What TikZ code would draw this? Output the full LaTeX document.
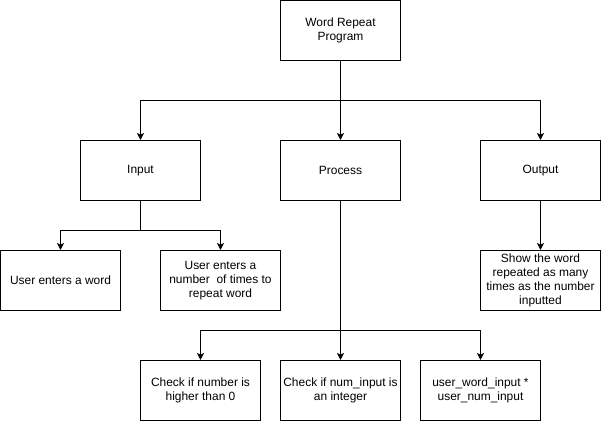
\documentclass[tikz,border=0pt]{standalone}
\usepackage{fontspec}
\setmainfont{Liberation Sans}
\usetikzlibrary{arrows.meta}

\begin{document}
\begin{tikzpicture}[x=0.025cm,y=-0.025cm,
    box/.style={draw,line width=0.7pt,minimum width=3cm,minimum height=1.5cm,
        align=center,inner sep=1pt,font=\fontsize{8.5}{10}\selectfont},
    link/.style={line width=0.7pt},
    arr/.style={link,-{Stealth[length=5pt,width=5pt,inset=1.2pt]}}]
    \useasboundingbox (-0.5,-0.5) rectangle (600.5,420.5);

    \node[box] (W) at (340,30) {Word Repeat\\Program};

    \node[box] (I) at (140,170) {Input};
    \node[box] (P) at (340,170) {Process};
    \node[box] (O) at (540,170) {Output};

    \node[box] (UW) at (60,280) {User enters a word};
    \node[box] (UN) at (220,280) {User enters a\\number\ \ of times to\\repeat word};
    \node[box] (S) at (540,280) {Show the word\\repeated as many\\times as the number\\inputted};

    \node[box] (C1) at (200,390) {Check if number is\\higher than 0};
    \node[box] (C2) at (340,390) {Check if num\_input is\\an integer};
    \node[box] (C3) at (480,390) {user\_word\_input *\\user\_num\_input};

    \coordinate (j1) at (340,100);
    \coordinate (j2) at (140,230);
    \coordinate (j3) at (340,330);

    \draw[link] (W) -- (j1);
    \draw[arr] (j1) -| (I);
    \draw[arr] (j1) -- (P);
    \draw[arr] (j1) -| (O);

    \draw[link] (I) -- (j2);
    \draw[arr] (j2) -| (UW);
    \draw[arr] (j2) -| (UN);

    \draw[arr] (O) -- (S);

    \draw[arr] (P) -- (C2);
    \draw[arr] (j3) -| (C1);
    \draw[arr] (j3) -| (C3);
\end{tikzpicture}
\end{document}
